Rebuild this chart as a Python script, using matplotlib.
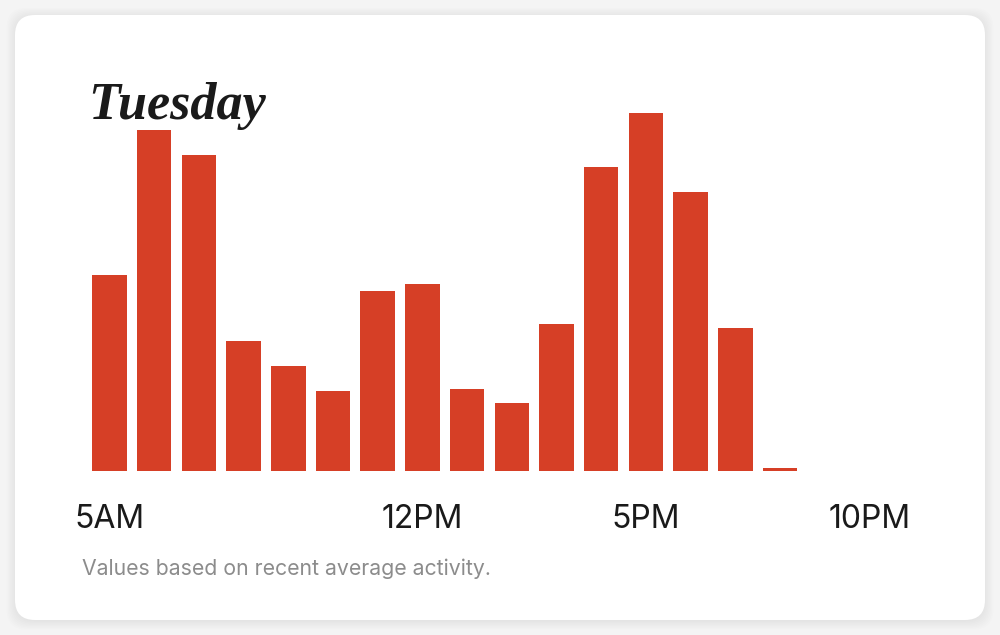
import numpy as np
from matplotlib import pyplot as plt
from matplotlib.patches import FancyBboxPatch

# hourly activity, 5AM .. 8PM
hours = list(range(16))
values = [196, 341, 316, 130, 105, 80, 180, 187, 82, 68, 147, 304, 358, 279, 143, 3]
tick_pos = [0, 7, 12, 17]
tick_labels = ['5AM', '12PM', '5PM', '10PM']

W, H = 1000, 635
fig = plt.figure(figsize=(W / 100, H / 100), dpi=100)
fig.patch.set_facecolor('#f4f4f4')

# card with a soft shadow
for i in range(8):
    s = FancyBboxPatch((15 / W - i * 0.0012, 15 / H - i * 0.0019 - 0.002),
                       970 / W + i * 0.0024, 605 / H + i * 0.0038,
                       boxstyle='round,pad=0,rounding_size=0.02',
                       transform=fig.transFigure, facecolor='#000000',
                       alpha=0.006, edgecolor='none', zorder=-2,
                       mutation_aspect=W / H)
    fig.patches.append(s)
card = FancyBboxPatch((15 / W, 15 / H), 970 / W, 605 / H,
                      boxstyle='round,pad=0,rounding_size=0.02',
                      transform=fig.transFigure, facecolor='white',
                      edgecolor='none', zorder=-1, mutation_aspect=W / H)
fig.patches.append(card)

step = 44.7
left = 109.5 - 0.5 * step
ax = fig.add_axes([left / W, (H - 471) / H, 18 * step / W, 400 / H])
ax.set_zorder(2)
ax.set_facecolor('none')
ax.bar(hours, values, width=0.77, color='#d63f26')
ax.set_xlim(-0.5, 17.5)
ax.set_ylim(0, 400)
ax.set_yticks([])
ax.set_xticks(tick_pos)
ax.set_xticklabels(tick_labels, fontsize=23, family='Inter', color='#1a1a1a')
ax.tick_params(axis='x', length=0, pad=24)
for sp in ax.spines.values():
    sp.set_visible(False)

fig.text(88 / W, (H - 119) / H, 'Tuesday', fontsize=37.5, family='Liberation Serif',
         weight='bold', style='italic', color='#1a1a1a', va='baseline', zorder=3)
fig.text(82 / W, (H - 575) / H, 'Values based on recent average activity.',
         fontsize=15.3, family='Inter', color='#8c8c8c', va='baseline', zorder=3)

plt.savefig('out.png', dpi=100, facecolor=fig.get_facecolor())
